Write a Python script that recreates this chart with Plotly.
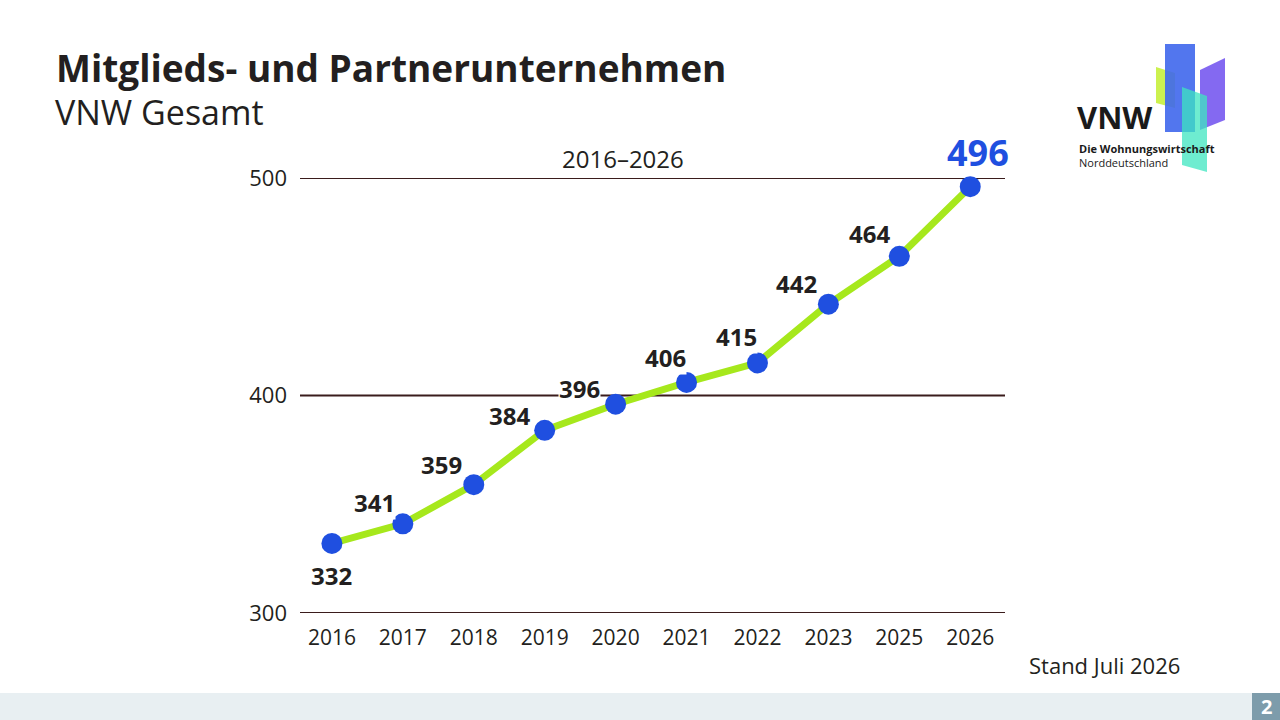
import plotly.graph_objects as go

years = ["2016", "2017", "2018", "2019", "2020", "2021", "2022", "2023", "2025", "2026"]
members = [332, 341, 359, 384, 396, 406, 415, 442, 464, 496]
y_ticks = [300, 400, 500]

W, H = 1280, 720
FONT = "Open Sans"
DARK = "#231f20"

def px(x):
    return x / W

def py(y):
    return 1 - y / H

fig = go.Figure()
fig.add_trace(go.Scatter(
    x=years, y=members, mode="lines+markers",
    line=dict(color="#a6e81c", width=7),
    marker=dict(color="#1f4fe0", size=21),
    cliponaxis=False, hoverinfo="x+y",
))

# label offsets (pixels) for each point label
offsets = [(0, -32), (-28, 21), (-32, 20), (-35, 15), (-36, 16),
           (-21, 25), (-21, 26), (-32, 21), (-30, 23), (8, 34)]
annotations = []
for i, v in enumerate(members):
    last = i == len(members) - 1
    annotations.append(dict(
        x=i, y=v, xref="x", yref="y", text=f"<b>{v}</b>", showarrow=False,
        xshift=offsets[i][0], yshift=offsets[i][1],
        font=dict(family=FONT, size=36 if last else 24, color="#1f4fe0" if last else DARK),
        bgcolor="rgba(0,0,0,0)" if last else "white", borderpad=0,
    ))

annotations += [
    dict(x=px(54), y=py(67), xref="paper", yref="paper", xanchor="left", yanchor="middle",
         text="<b>Mitglieds- und Partnerunternehmen</b>", showarrow=False,
         font=dict(family=FONT, size=37, color=DARK)),
    dict(x=px(53), y=py(112), xref="paper", yref="paper", xanchor="left", yanchor="middle",
         text="VNW Gesamt", showarrow=False,
         font=dict(family=FONT, size=34, color=DARK)),
    dict(x=px(623), y=py(158), xref="paper", yref="paper", xanchor="center", yanchor="middle",
         text="2016–2026", showarrow=False,
         font=dict(family=FONT, size=24, color=DARK)),
    dict(x=px(1182), y=py(665), xref="paper", yref="paper", xanchor="right", yanchor="middle",
         text="Stand Juli 2026", showarrow=False,
         font=dict(family=FONT, size=22, color=DARK)),
    dict(x=px(1266), y=py(706), xref="paper", yref="paper", xanchor="center", yanchor="middle",
         text="<b>2</b>", showarrow=False,
         font=dict(family=FONT, size=20, color="white")),
    dict(x=px(1075), y=py(117), xref="paper", yref="paper", xanchor="left", yanchor="middle",
         text="<b>VNW</b>", showarrow=False,
         font=dict(family=FONT, size=31, color="#1a1a1a")),
    dict(x=px(1077), y=py(155), xref="paper", yref="paper", xanchor="left", yanchor="middle",
         text="<b>Die Wohnungswirtschaft</b><br>Norddeutschland", showarrow=False, align="left",
         font=dict(family=FONT, size=11, color="#1a1a1a")),
]

def poly(points, color, opacity):
    path = "M " + " L ".join(f"{px(x)},{py(y)}" for x, y in points) + " Z"
    return dict(type="path", path=path, xref="paper", yref="paper",
                fillcolor=color, opacity=opacity, line=dict(width=0), layer="below")

shapes = [
    dict(type="rect", xref="paper", yref="paper", x0=0, x1=px(1252), y0=py(720), y1=py(693),
         fillcolor="#e8eff2", line=dict(width=0), layer="below"),
    dict(type="rect", xref="paper", yref="paper", x0=px(1252), x1=1, y0=py(720), y1=py(693),
         fillcolor="#7d9cab", line=dict(width=0), layer="below"),
    poly([(1156, 67), (1175, 73), (1175, 108), (1156, 103)], "#c6ef3c", 0.9),
    poly([(1165, 44), (1195, 44), (1195, 132), (1165, 132)], "#3f67ec", 0.9),
    poly([(1200, 70), (1225, 58), (1225, 120), (1200, 130)], "#6f4fee", 0.85),
    poly([(1182, 87), (1207, 96), (1207, 172), (1182, 165)], "#3ee6c0", 0.75),
]
# horizontal reference lines at the y tick values
for t in y_ticks:
    shapes.append(dict(type="line", xref="paper", yref="y", x0=px(300), x1=px(1005), y0=t, y1=t,
                       line=dict(color="#3a1c1c", width=1.8), layer="below"))

fig.update_layout(
    width=W, height=H, margin=dict(l=0, r=0, t=0, b=0, pad=0), autosize=False,
    paper_bgcolor="white", plot_bgcolor="white", showlegend=False,
    annotations=annotations, shapes=shapes,
    font=dict(family=FONT, color=DARK),
    xaxis=dict(domain=[px(300), px(1005)], range=[-0.45, 9.49], type="category",
               showgrid=False, zeroline=False, showline=False, ticks="", automargin=False,
               tickfont=dict(family=FONT, size=21, color=DARK), ticklabelstandoff=10),
    yaxis=dict(domain=[py(613), py(178)], range=[300, 500], tickvals=y_ticks,
               showgrid=False, zeroline=False, automargin=False,
               showline=False, ticks="", ticklabelstandoff=12,
               tickfont=dict(family=FONT, size=22, color=DARK)),
)

fig.write_html("out.html")
